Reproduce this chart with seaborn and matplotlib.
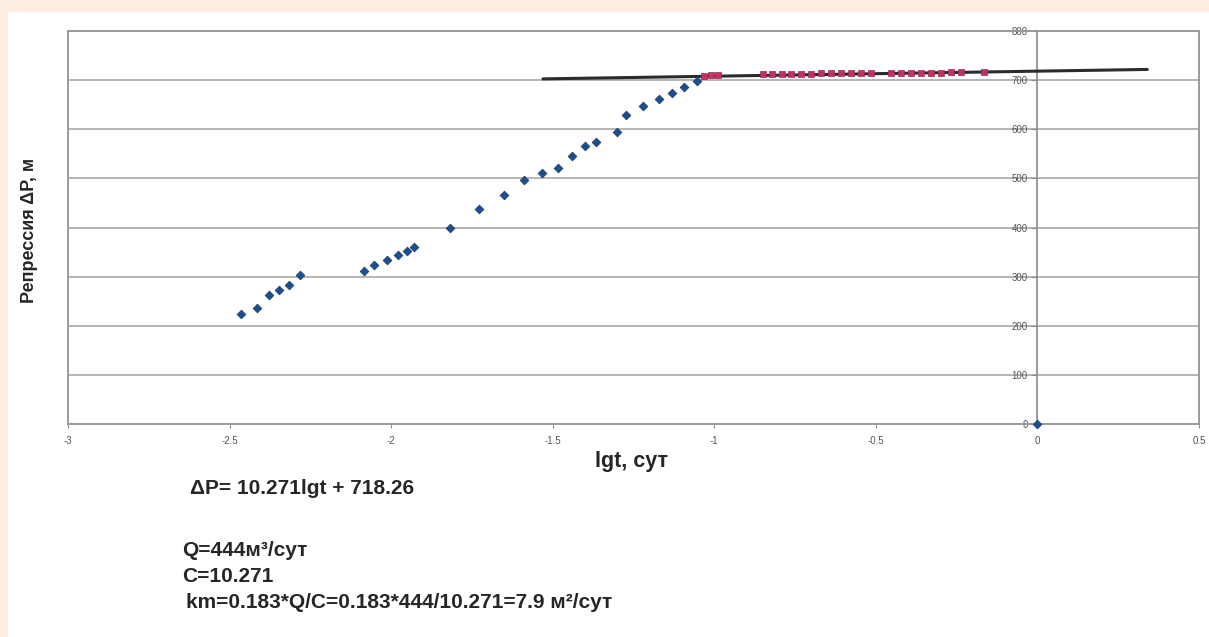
import matplotlib
matplotlib.use("Agg")
import matplotlib.pyplot as plt
from matplotlib.patches import Rectangle
import pandas as pd
import seaborn as sns

# Early-time points (lg t, drawdown)
blue_lgt = [-2.464, -2.415, -2.378, -2.347, -2.316, -2.282,
            -2.084, -2.053, -2.012, -1.978, -1.950, -1.929,
            -1.817, -1.728, -1.650, -1.588, -1.533, -1.483,
            -1.440, -1.399, -1.365, -1.300, -1.272, -1.220,
            -1.170, -1.130, -1.093, -1.053, 0.0]
blue_dp = [224, 236, 263, 273, 283, 303,
           311, 324, 334, 344, 352, 360,
           399, 438, 466, 497, 511, 521,
           546, 566, 574, 594, 629, 647,
           662, 674, 686, 698, 0]

# Late-time points used for the straight-line fit
red_lgt = [-1.031, -1.009, -0.988, -0.848, -0.820, -0.789, -0.762, -0.731,
           -0.700, -0.669, -0.638, -0.607, -0.576, -0.545, -0.514, -0.452,
           -0.421, -0.390, -0.359, -0.328, -0.297, -0.266, -0.235, -0.164]
red_dp = [708, 710, 711, 712, 712, 713, 713, 713,
          713, 714, 714, 714, 714, 714, 714, 715,
          715, 715, 715, 715, 715, 716, 716, 716]

trend_slope = 10.271
trend_intercept = 718.26
trend_lgt = [-1.53, 0.34]

x_ticks = [-3, -2.5, -2, -1.5, -1, -0.5, 0, 0.5]
x_tick_labels = ["-3", "-2.5", "-2", "-1.5", "-1", "-0.5", "0", "0.5"]
y_ticks = [0, 100, 200, 300, 400, 500, 600, 700, 800]

sns.set_theme(style="white")
plt.rcParams["font.family"] = ["Liberation Sans", "DejaVu Sans"]

W, H = 1209, 637
fig = plt.figure(figsize=(W / 100, H / 100), dpi=100, facecolor="#FEEEDF")
fig.patches.append(Rectangle((8 / W, 0), 1, 1 - 12 / H, transform=fig.transFigure,
                             facecolor="white", edgecolor="none", zorder=-5))

ax = fig.add_axes([68 / W, 1 - 424 / H, (1199 - 68) / W, (424 - 31) / H])
ax.set_zorder(1)
ax.set_facecolor("white")

blue_df = pd.DataFrame({"lgt": blue_lgt, "dp": blue_dp})
red_df = pd.DataFrame({"lgt": red_lgt, "dp": red_dp})
trend_df = pd.DataFrame({"lgt": trend_lgt,
                         "dp": [trend_slope * v + trend_intercept for v in trend_lgt]})

sns.lineplot(data=trend_df, x="lgt", y="dp", ax=ax, color="#2b2b2b",
             linewidth=2.2, zorder=3)
sns.scatterplot(data=blue_df, x="lgt", y="dp", ax=ax, marker="D", s=20,
                color="#1d4f8f", edgecolor="#15396a", linewidth=0.5,
                zorder=4, clip_on=False)
sns.scatterplot(data=red_df, x="lgt", y="dp", ax=ax, marker="s", s=24,
                color="#c4305f", edgecolor="#9c2850", linewidth=0.5, zorder=4)

ax.set_xlim(-3, 0.5)
ax.set_ylim(0, 800)
ax.set_xticks(x_ticks)
ax.set_xticklabels(x_tick_labels)
ax.set_yticks(y_ticks)
ax.set_xlabel("")
ax.set_ylabel("")

# Horizontal grid
ax.yaxis.grid(True, color="#a8a8a8", linewidth=1.2)
ax.xaxis.grid(False)
ax.set_axisbelow(True)

# Vertical value axis sits at lg t = 0
for side in ["top", "right", "bottom"]:
    ax.spines[side].set_visible(False)
ax.spines["left"].set_position(("data", 0))
ax.spines["left"].set_color("#8a8a8a")
ax.spines["left"].set_linewidth(1.2)
ax.spines["left"].set_zorder(2)
ax.add_patch(Rectangle((0, 0), 1, 1, transform=ax.transAxes, fill=False,
                       edgecolor="#9a9a9a", linewidth=1.4, clip_on=False, zorder=2))

ax.tick_params(axis="y", left=True, direction="out", length=4, width=0.8,
               color="#8a8a8a", labelsize=7, labelcolor="#555555", pad=3)
ax.tick_params(axis="x", bottom=True, direction="out", length=3, width=0.8,
               color="#8a8a8a", labelsize=7, labelcolor="#555555", pad=6)

txt = dict(color="#262626", fontweight="bold")
fig.text(30 / W, 1 - 230 / H, "Репрессия ΔP, м", rotation=90,
         ha="center", va="center", fontsize=13, **txt)
fig.text(632 / W, 1 - 462 / H, "lgt, сут", ha="center", va="center",
         fontsize=15.5, **txt)
fig.text(190 / W, 1 - 488 / H, "ΔP= 10.271lgt + 718.26", ha="left",
         va="center", fontsize=15, **txt)
fig.text(182 / W, 1 - 551 / H, "Q=444м³/сут", ha="left", va="center",
         fontsize=15, **txt)
fig.text(182 / W, 1 - 576 / H, "C=10.271", ha="left", va="center",
         fontsize=15, **txt)
fig.text(186 / W, 1 - 603 / H, "km=0.183*Q/C=0.183*444/10.271=7.9 м²/сут",
         ha="left", va="center", fontsize=15, **txt)

fig.savefig("out.png", dpi=100, facecolor=fig.get_facecolor())
